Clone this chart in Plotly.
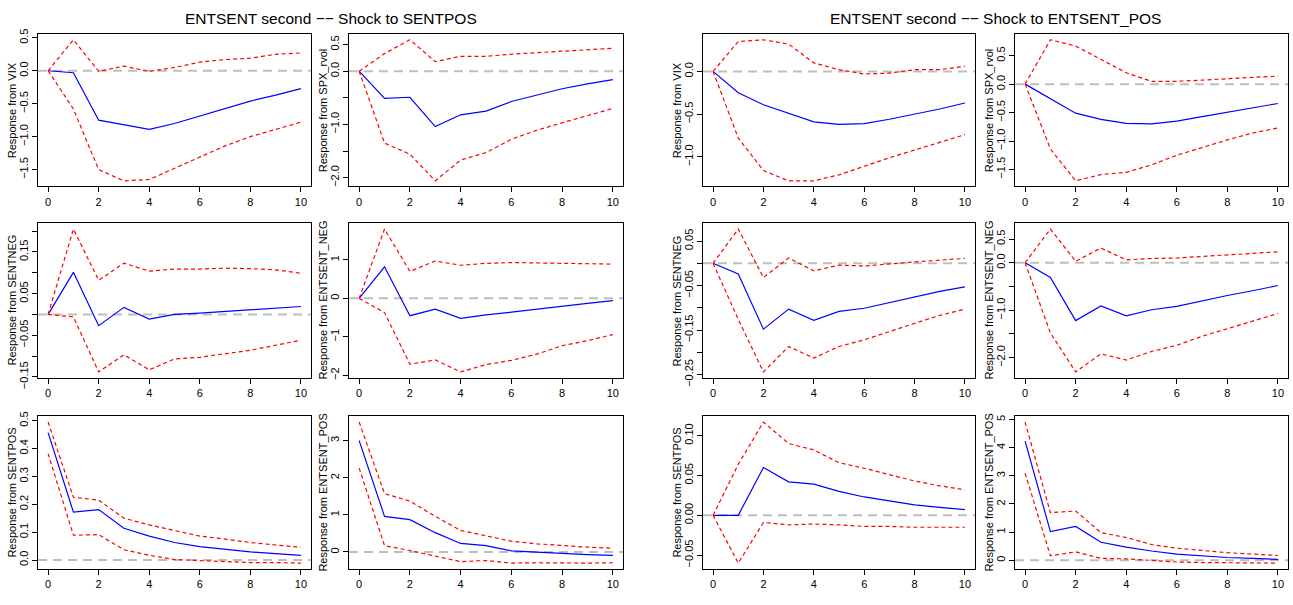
import plotly.graph_objects as go

# Impulse-response horizons
periods = list(range(11))

# ---- Shock to SENTPOS ----
vix_sentpos_irf = [0, -0.03, -0.75, -0.82, -0.89, -0.80, -0.69, -0.58, -0.46, -0.37, -0.27]
vix_sentpos_lo = [0, -0.58, -1.50, -1.67, -1.65, -1.48, -1.31, -1.14, -1.00, -0.89, -0.78]
vix_sentpos_hi = [0, 0.47, -0.01, 0.07, -0.01, 0.05, 0.13, 0.17, 0.19, 0.25, 0.27]

spx_sentpos_irf = [0, -0.51, -0.49, -1.04, -0.82, -0.75, -0.57, -0.45, -0.33, -0.24, -0.16]
spx_sentpos_lo = [0, -1.35, -1.56, -2.06, -1.67, -1.53, -1.28, -1.11, -0.97, -0.84, -0.70]
spx_sentpos_hi = [0, 0.33, 0.59, 0.18, 0.28, 0.28, 0.32, 0.35, 0.38, 0.41, 0.43]

sentneg_sentpos_irf = [0, 0.101, -0.027, 0.017, -0.011, 0.0, 0.003, 0.007, 0.011, 0.015, 0.019]
sentneg_sentpos_lo = [0, -0.006, -0.138, -0.097, -0.133, -0.107, -0.103, -0.095, -0.086, -0.074, -0.062]
sentneg_sentpos_hi = [0, 0.205, 0.082, 0.123, 0.104, 0.109, 0.109, 0.111, 0.110, 0.107, 0.099]

entneg_sentpos_irf = [0, 0.82, -0.45, -0.28, -0.52, -0.43, -0.36, -0.28, -0.20, -0.13, -0.06]
entneg_sentpos_lo = [0, -0.37, -1.71, -1.60, -1.91, -1.72, -1.61, -1.45, -1.23, -1.10, -0.94]
entneg_sentpos_hi = [0, 1.80, 0.70, 0.97, 0.86, 0.91, 0.93, 0.92, 0.92, 0.91, 0.89]

sentpos_sentpos_irf = [0.457, 0.172, 0.181, 0.114, 0.086, 0.063, 0.048, 0.038, 0.029, 0.023, 0.017]
sentpos_sentpos_lo = [0.382, 0.089, 0.091, 0.037, 0.017, 0.002, -0.002, -0.006, -0.009, -0.009, -0.011]
sentpos_sentpos_hi = [0.495, 0.225, 0.215, 0.150, 0.126, 0.106, 0.086, 0.075, 0.063, 0.054, 0.046]

entpos_sentpos_irf = [3.00, 0.96, 0.87, 0.52, 0.23, 0.17, 0.03, -0.01, -0.05, -0.07, -0.09]
entpos_sentpos_lo = [2.26, 0.17, 0.04, -0.10, -0.26, -0.23, -0.30, -0.29, -0.30, -0.30, -0.29]
entpos_sentpos_hi = [3.50, 1.57, 1.37, 0.96, 0.58, 0.43, 0.29, 0.22, 0.17, 0.13, 0.10]

# ---- Shock to ENTSENT_POS ----
vix_entpos_irf = [0, -0.25, -0.39, -0.49, -0.59, -0.62, -0.61, -0.56, -0.50, -0.44, -0.37]
vix_entpos_lo = [0, -0.78, -1.16, -1.28, -1.28, -1.21, -1.11, -1.01, -0.92, -0.83, -0.74]
vix_entpos_hi = [0, 0.35, 0.37, 0.32, 0.10, 0.02, -0.03, -0.02, 0.02, 0.02, 0.06]

spx_entpos_irf = [0, -0.26, -0.51, -0.62, -0.69, -0.70, -0.65, -0.57, -0.49, -0.41, -0.34]
spx_entpos_lo = [0, -1.14, -1.70, -1.59, -1.55, -1.42, -1.25, -1.11, -0.98, -0.86, -0.77]
spx_entpos_hi = [0, 0.78, 0.67, 0.43, 0.20, 0.05, 0.05, 0.07, 0.10, 0.12, 0.14]

sentneg_entpos_irf = [0, -0.024, -0.148, -0.103, -0.128, -0.108, -0.101, -0.088, -0.075, -0.063, -0.053]
sentneg_entpos_lo = [0, -0.126, -0.244, -0.187, -0.213, -0.187, -0.172, -0.153, -0.135, -0.117, -0.103]
sentneg_entpos_hi = [0, 0.077, -0.032, 0.012, -0.017, -0.004, -0.006, -0.001, 0.003, 0.007, 0.011]

entneg_entpos_irf = [0, -0.31, -1.22, -0.91, -1.12, -0.99, -0.92, -0.80, -0.69, -0.59, -0.48]
entneg_entpos_lo = [0, -1.48, -2.30, -1.92, -2.05, -1.87, -1.74, -1.55, -1.39, -1.23, -1.07]
entneg_entpos_hi = [0, 0.71, 0.03, 0.31, 0.06, 0.09, 0.10, 0.13, 0.17, 0.20, 0.23]

sentpos_entpos_irf = [0, 0.0, 0.060, 0.042, 0.039, 0.030, 0.023, 0.018, 0.013, 0.010, 0.007]
sentpos_entpos_lo = [0, -0.060, -0.009, -0.012, -0.011, -0.012, -0.014, -0.014, -0.015, -0.015, -0.015]
sentpos_entpos_hi = [0, 0.064, 0.117, 0.090, 0.082, 0.066, 0.059, 0.051, 0.043, 0.037, 0.032]

entpos_entpos_irf = [4.23, 1.02, 1.20, 0.64, 0.47, 0.33, 0.22, 0.16, 0.10, 0.07, 0.03]
entpos_entpos_lo = [3.09, 0.16, 0.30, 0.07, 0.05, -0.01, -0.06, -0.08, -0.08, -0.09, -0.10]
entpos_entpos_hi = [4.91, 1.69, 1.75, 0.98, 0.81, 0.56, 0.43, 0.34, 0.27, 0.22, 0.17]

# Panel titles
titles = ["ENTSENT second \u2212\u2212 Shock to SENTPOS",
          "ENTSENT second \u2212\u2212 Shock to ENTSENT_POS"]

# Y-axis tick values and the labels drawn for them (blank = unlabeled tick)
M = "\u2212"
yticks = {
    "vix_sentpos": ([0.5, 0.0, -0.5, -1.0, -1.5], ["0.5", "0.0", M + "0.5", M + "1.0", M + "1.5"]),
    "spx_sentpos": ([0.5, 0.0, -0.5, -1.0, -1.5, -2.0], ["0.5", "0.0", "", M + "1.0", "", M + "2.0"]),
    "vix_entpos": ([0.0, -0.5, -1.0], ["0.0", M + "0.5", M + "1.0"]),
    "spx_entpos": ([0.5, 0.0, -0.5, -1.0, -1.5], ["0.5", "0.0", M + "0.5", M + "1.0", M + "1.5"]),
    "sentneg_sentpos": ([0.20, 0.15, 0.10, 0.05, 0.0, -0.05, -0.10, -0.15],
                        ["", "0.15", "", "0.05", "", M + "0.05", "", M + "0.15"]),
    "entneg_sentpos": ([1, 0, -1, -2], ["1", "0", M + "1", M + "2"]),
    "sentneg_entpos": ([0.05, 0.0, -0.05, -0.10, -0.15, -0.20, -0.25],
                       ["0.05", "", M + "0.05", "", M + "0.15", "", M + "0.25"]),
    "entneg_entpos": ([0.5, 0.0, -0.5, -1.0, -1.5, -2.0], ["0.5", "0.0", "", M + "1.0", "", M + "2.0"]),
    "sentpos_sentpos": ([0.0, 0.1, 0.2, 0.3, 0.4, 0.5], ["0.0", "0.1", "0.2", "0.3", "0.4", "0.5"]),
    "entpos_sentpos": ([0, 1, 2, 3], ["0", "1", "2", "3"]),
    "sentpos_entpos": ([0.10, 0.05, 0.0, -0.05], ["0.10", "0.05", "0.00", M + "0.05"]),
    "entpos_entpos": ([0, 1, 2, 3, 4, 5], ["0", "1", "2", "3", "4", "5"]),
}

xtick_vals = [0, 2, 4, 6, 8, 10]

# Grid of panels: (key, y label, irf, lower, upper), row-major, 3 rows x 4 cols
panels = [
    [("vix_sentpos", "Response from VIX", vix_sentpos_irf, vix_sentpos_lo, vix_sentpos_hi),
     ("spx_sentpos", "Response from SPX_rvol", spx_sentpos_irf, spx_sentpos_lo, spx_sentpos_hi),
     ("vix_entpos", "Response from VIX", vix_entpos_irf, vix_entpos_lo, vix_entpos_hi),
     ("spx_entpos", "Response from SPX_rvol", spx_entpos_irf, spx_entpos_lo, spx_entpos_hi)],
    [("sentneg_sentpos", "Response from SENTNEG", sentneg_sentpos_irf, sentneg_sentpos_lo, sentneg_sentpos_hi),
     ("entneg_sentpos", "Response from ENTSENT_NEG", entneg_sentpos_irf, entneg_sentpos_lo, entneg_sentpos_hi),
     ("sentneg_entpos", "Response from SENTNEG", sentneg_entpos_irf, sentneg_entpos_lo, sentneg_entpos_hi),
     ("entneg_entpos", "Response from ENTSENT_NEG", entneg_entpos_irf, entneg_entpos_lo, entneg_entpos_hi)],
    [("sentpos_sentpos", "Response from SENTPOS", sentpos_sentpos_irf, sentpos_sentpos_lo, sentpos_sentpos_hi),
     ("entpos_sentpos", "Response from ENTSENT_POS", entpos_sentpos_irf, entpos_sentpos_lo, entpos_sentpos_hi),
     ("sentpos_entpos", "Response from SENTPOS", sentpos_entpos_irf, sentpos_entpos_lo, sentpos_entpos_hi),
     ("entpos_entpos", "Response from ENTSENT_POS", entpos_entpos_irf, entpos_entpos_lo, entpos_entpos_hi)],
]

W, H = 1293, 605
col_px = [(38, 311), (349, 623), (703, 975), (1015, 1288)]
row_px = [(29, 186), (224, 383), (423, 580)]

FONT = "Liberation Sans, Arial, Helvetica, sans-serif"
fig = go.Figure()
layout = dict(
    width=W, height=H, margin=dict(l=0, r=0, t=0, b=0),
    paper_bgcolor="white", plot_bgcolor="white", showlegend=False,
    font=dict(family=FONT, size=11, color="black"),
)
shapes, annotations = [], []

n = 0
for r, row in enumerate(panels):
    for c, (key, ylab, irf, lo, hi) in enumerate(row):
        n += 1
        sfx = "" if n == 1 else str(n)
        xa, ya = "x" + sfx, "y" + sfx
        allv = irf + lo + hi
        vmin, vmax = min(allv), max(allv)
        pad = 0.04 * (vmax - vmin)
        x0, x1 = col_px[c]
        t0, b0 = row_px[r]
        layout["xaxis" + sfx] = dict(
            domain=[x0 / W, x1 / W], anchor=ya, range=[-0.4, 10.4],
            tickvals=xtick_vals, ticks="outside", ticklen=5, tickcolor="black",
            showline=True, mirror=True, linecolor="black", linewidth=1,
            showgrid=False, zeroline=False, tickfont=dict(size=11),
        )
        tv, tt = yticks[key]
        layout["yaxis" + sfx] = dict(
            domain=[1 - b0 / H, 1 - t0 / H], anchor=xa, range=[vmin - pad, vmax + pad],
            tickvals=tv, ticktext=tt, ticks="outside", ticklen=5, tickcolor="black",
            tickangle=-90, showline=True, mirror=True, linecolor="black", linewidth=1,
            showgrid=False, zeroline=False, tickfont=dict(size=11),
        )
        # zero reference line
        shapes.append(dict(type="line", xref=xa + " domain", yref=ya, x0=0, x1=1, y0=0, y1=0,
                           line=dict(color="#BEBEBE", width=2, dash="9px,6px"), layer="below"))
        fig.add_trace(go.Scatter(x=periods, y=irf, mode="lines", xaxis=xa, yaxis=ya,
                                 line=dict(color="#0000FF", width=1.2)))
        for band in (lo, hi):
            fig.add_trace(go.Scatter(x=periods, y=band, mode="lines", xaxis=xa, yaxis=ya,
                                     line=dict(color="#FF0000", width=1.2, dash="4px,3px")))
        annotations.append(dict(text=ylab, xref="paper", yref="paper",
                                x=(x0 - 26) / W, y=1 - (t0 + b0) / 2 / H, textangle=-90,
                                showarrow=False, font=dict(size=11), xanchor="center", yanchor="middle"))

# Group titles centred over each pair of columns
for g, title in enumerate(titles):
    left = col_px[2 * g][0]
    right = col_px[2 * g + 1][1]
    annotations.append(dict(text=title, xref="paper", yref="paper",
                            x=(left + right) / 2 / W, y=1 - 13 / H, showarrow=False,
                            font=dict(size=15.5), xanchor="center", yanchor="middle"))

layout["shapes"] = shapes
layout["annotations"] = annotations
fig.update_layout(**layout)
fig.write_html("out.html")
